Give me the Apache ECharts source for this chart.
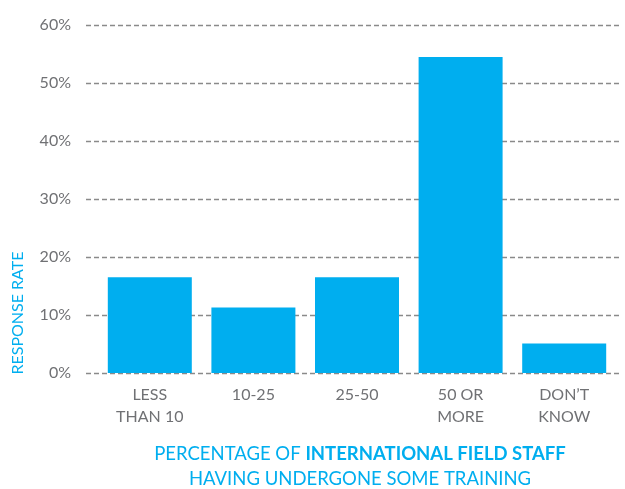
<!DOCTYPE html>
<html>
<head>
<meta charset="utf-8">
<script src="https://cdn.jsdelivr.net/npm/echarts@6/dist/echarts.min.js"></script>
<style>
  html, body { margin: 0; padding: 0; background: #ffffff; }
  #chart { width: 625px; height: 489px; }
</style>
</head>
<body>
<div id="chart"></div>
<script>
// Share of respondents by how many international field staff received training
const categories = ['LESS\nTHAN 10', '10-25', '25-50', '50 OR\nMORE', 'DON\u2019T\nKNOW'];
const responseRate = [16.5, 11.3, 16.5, 54.5, 5.1];
const yTicks = [0, 10, 20, 30, 40, 50, 60];

const BLUE = '#00AEEF';
const GREY = '#707174';
const FONT = 'Lato, "Open Sans", sans-serif';

const chart = echarts.init(document.getElementById('chart'), null, { renderer: 'canvas' });

const gridTop = 25, gridBottom = 116;

chart.setOption({
  animation: false,
  backgroundColor: '#ffffff',
  grid: [
    // grid carrying the dashed reference lines and percentage labels
    { left: 86, right: 4, top: gridTop, bottom: gridBottom },
    // grid carrying the bars
    { left: 98, right: 9, top: gridTop, bottom: gridBottom }
  ],
  xAxis: [
    { type: 'value', gridIndex: 0, show: false, min: 0, max: 1 },
    {
      type: 'category', gridIndex: 1, data: categories,
      axisLine: { show: false }, axisTick: { show: false },
      axisLabel: { color: GREY, fontFamily: FONT, fontSize: 16, lineHeight: 22, margin: 11 }
    }
  ],
  yAxis: [
    {
      type: 'value', gridIndex: 0, min: yTicks[0], max: yTicks[yTicks.length - 1], interval: 10,
      axisLine: { show: false }, axisTick: { show: false },
      axisLabel: { color: GREY, fontFamily: FONT, fontSize: 16, margin: 15, formatter: '{value}%' },
      splitLine: { lineStyle: { color: '#8a8a8a', type: [5, 3], width: 1.3 } }
    },
    {
      type: 'value', gridIndex: 1, min: yTicks[0], max: yTicks[yTicks.length - 1], interval: 10,
      show: false, splitLine: { show: false }
    }
  ],
  series: [{
    type: 'bar',
    xAxisIndex: 1, yAxisIndex: 1,
    data: responseRate,
    barWidth: 84,
    itemStyle: { color: BLUE },
    z: 1
  }],
  graphic: [
    {
      type: 'text',
      x: 18, y: 313,
      rotation: Math.PI / 2,
      style: {
        text: 'RESPONSE RATE',
        fill: BLUE, font: '16px ' + FONT,
        align: 'center', verticalAlign: 'middle'
      }
    },
    {
      type: 'text',
      x: 360, y: 467,
      style: {
        text: '{n|PERCENTAGE OF }{b|INTERNATIONAL FIELD STAFF}\n{n|HAVING UNDERGONE SOME TRAINING}',
        align: 'center', verticalAlign: 'middle',
        rich: {
          n: { fill: BLUE, fontFamily: FONT, fontSize: 18.5, lineHeight: 25 },
          b: { fill: BLUE, fontFamily: FONT, fontSize: 18.5, fontWeight: 'bold', lineHeight: 25 }
        }
      }
    }
  ]
});
</script>
</body>
</html>
